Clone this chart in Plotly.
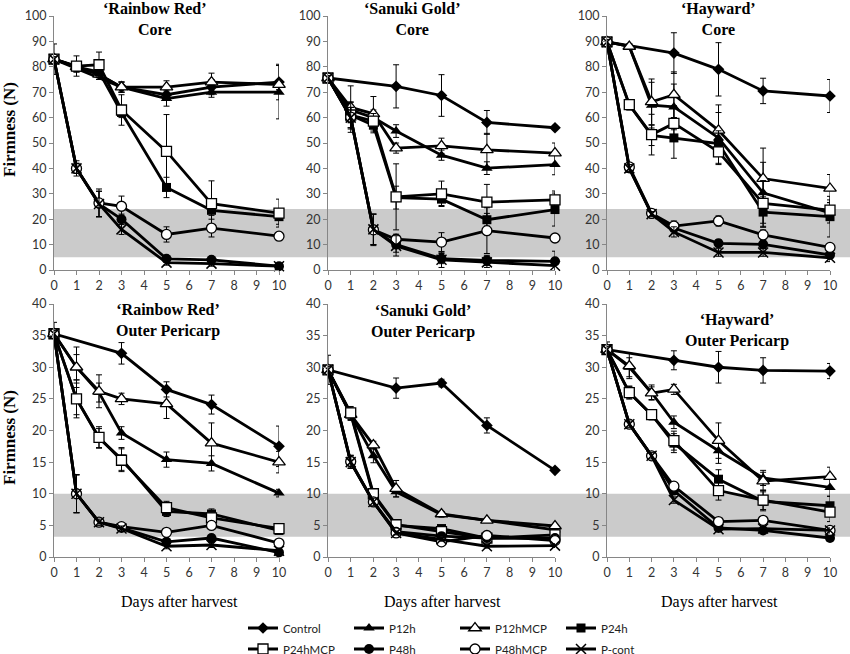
import plotly.graph_objects as go
from plotly.subplots import make_subplots

# Sampling days (Control was only measured on some of them)
DAYS = [0, 1, 2, 3, 5, 7, 10]
CONTROL_DAYS = [0, 3, 5, 7, 10]

SERIES = ["Control", "P12h", "P12hMCP", "P24h", "P24hMCP", "P48h", "P48hMCP", "P-cont"]

# Firmness (N), one row per series in SERIES order
rr_core = [
    [83, 72, 69, 72, 74],
    [83, 80, 77, 72, 67.5, 70, 70],
    [83, 80, 77, 72, 72, 74, 73],
    [83, 80, 78, 62, 32.5, 23.5, 21],
    [83, 80.3, 80.8, 63, 46.7, 26.1, 22.4],
    [83, 40, 26, 20, 4.4, 4, 1.5],
    [83, 40, 26.4, 25.1, 14, 16.5, 13.3],
    [83, 40, 26, 16, 2.9, 2.5, 1.5],
]
rr_core_err = [
    [6, 2, 2, 3, 7],
    [1, 2, 2, 2, 3, 2, 10.5],
    [1, 2, 2, 2, 2.5, 3.5, 2],
    [1, 2, 2, 2, 4, 2, 3],
    [1, 4, 5, 6, 14.5, 9, 5.5],
    [1, 2, 5, 2, 1, 1, 1],
    [1, 3, 5.5, 4, 3, 3.5, 1],
    [1, 2, 5, 2, 1, 1, 1],
]

sg_core = [
    [75.6, 72.3, 68.7, 58.1, 56],
    [75.6, 63, 60, 54.7, 45.2, 40.1, 41.5],
    [75.6, 64, 61.5, 48, 48.9, 47.3, 46],
    [75.6, 61, 57, 28.5, 27.9, 19.8, 23.8],
    [75.6, 61, 58.6, 28.8, 30, 26.7, 27.6],
    [75.6, 60, 16, 10, 4.5, 3.8, 3.4],
    [75.6, 60.2, 15.8, 12.1, 11, 15.5, 12.6],
    [75.6, 60, 16, 9.5, 4, 3, 1.7],
]
sg_core_err = [
    [1, 8.5, 8.2, 4.7, 0.8],
    [1, 3, 3, 2.5, 2, 2.5, 4],
    [1, 8.5, 6.8, 2, 3, 6.5, 4],
    [1, 3, 3, 4.5, 2.5, 2.5, 6.5],
    [1, 3, 3, 13, 5, 7, 3.5],
    [1, 4, 6, 3, 2, 2, 4],
    [1, 6, 6.2, 2, 3.7, 9, 1],
    [1, 4, 6, 4, 3, 2, 2],
]

hw_core = [
    [89.8, 85.4, 79, 70.5, 68.5],
    [89.8, 88, 64.9, 64.2, 52, 30.4, 22.5],
    [89.8, 88, 66.2, 69, 55, 36, 32.1],
    [89.8, 65, 53, 52, 49.8, 22.8, 21],
    [89.8, 65.1, 53.3, 57.7, 46.5, 26.2, 23.6],
    [89.8, 40, 22, 16.5, 10.5, 10.1, 5.9],
    [89.8, 40.6, 22.3, 17.3, 19.3, 13.8, 8.9],
    [89.8, 40, 22, 15, 6.9, 6.9, 4.8],
]
hw_core_err = [
    [1.5, 8, 10.5, 5, 6.5],
    [1, 1, 9, 9, 10, 12, 4],
    [1, 1, 9, 9, 10, 12, 5.5],
    [1, 2, 4, 8, 5, 6, 8],
    [1, 2, 8, 7, 5, 9, 4],
    [1, 1.5, 1, 2, 1.5, 1.5, 1.5],
    [1, 1.5, 1, 2, 2, 2, 1.5],
    [1, 1.5, 1, 2, 1.5, 1.5, 1.5],
]

rr_outer = [
    [35.3, 32.2, 26.5, 24.1, 17.5],
    [35.3, 30, 26, 19.6, 15.4, 14.8, 10.1],
    [35.3, 30, 26.2, 25, 24.2, 18, 15],
    [35.3, 25, 18.8, 15.5, 7.2, 6.8, 4.2],
    [35.3, 25, 18.9, 15.3, 7.8, 6.2, 4.5],
    [35.3, 10, 5.5, 4.6, 2.4, 3, 0.7],
    [35.3, 10, 5.5, 4.8, 3.9, 5, 2.2],
    [35.3, 10, 5.5, 4.5, 1.7, 1.9, 1],
]
rr_outer_err = [
    [1.8, 1.7, 1.2, 1.5, 3.2],
    [0.5, 2, 1.5, 1, 1.2, 1.2, 0.6],
    [0.5, 3.2, 2.6, 0.9, 2.3, 3.2, 1.7],
    [0.5, 2.5, 1.5, 1.8, 0.8, 0.8, 0.5],
    [0.5, 3, 1.7, 1.8, 1, 0.8, 0.5],
    [0.5, 3, 0.5, 0.4, 0.4, 0.5, 0.3],
    [0.5, 3, 0.5, 0.4, 0.4, 0.5, 0.3],
    [0.5, 3, 0.5, 0.4, 0.4, 0.4, 0.3],
]

sg_outer = [
    [29.6, 26.7, 27.5, 20.8, 13.7],
    [29.6, 22.5, 16, 10.3, 6.7, 5.8, 4.3],
    [29.6, 22.5, 17.7, 10.8, 6.8, 5.8, 4.9],
    [29.6, 22.6, 9.8, 5, 4.5, 3, 3],
    [29.6, 22.8, 10, 5.1, 4, 3, 3.5],
    [29.6, 15, 8.7, 4, 3.3, 3, 3],
    [29.6, 15.1, 8.7, 3.8, 2.4, 3.4, 2.6],
    [29.6, 15, 8.7, 3.8, 2.8, 1.7, 1.8],
]
sg_outer_err = [
    [2.3, 1.6, 0.6, 1.2, 0.3],
    [0.5, 0.8, 1.1, 0.8, 0.4, 0.3, 0.3],
    [0.5, 0.8, 0.6, 1.3, 0.4, 0.3, 0.3],
    [0.5, 1, 0.6, 0.4, 0.3, 0.3, 0.3],
    [0.5, 1, 0.6, 0.4, 0.3, 0.3, 0.3],
    [0.5, 1, 0.6, 0.3, 0.3, 0.3, 0.3],
    [0.5, 1, 0.6, 0.3, 0.3, 0.3, 0.3],
    [0.5, 1, 0.6, 0.3, 0.3, 0.3, 0.3],
]

hw_outer = [
    [32.8, 31.1, 30, 29.5, 29.4],
    [32.8, 30, 26, 21.3, 16.8, 12.5, 11],
    [32.8, 30.2, 25.9, 26.5, 18.4, 12, 12.7],
    [32.8, 26, 22.5, 18, 12.3, 8.8, 8.1],
    [32.8, 26, 22.5, 18.4, 10.5, 9, 7.1],
    [32.8, 21, 16, 10.5, 4.6, 4.2, 3],
    [32.8, 21, 16, 11.2, 5.6, 5.8, 4.2],
    [32.8, 21, 16, 9, 4.4, 4.5, 4.2],
]
hw_outer_err = [
    [1.2, 1.5, 2.5, 2, 1.2],
    [0.5, 1.5, 1.2, 1, 2, 1.2, 1.4],
    [0.5, 2, 1, 0.8, 2.8, 1.4, 1.5],
    [0.5, 1, 0.8, 1.5, 1.5, 1.5, 1.5],
    [0.5, 1, 0.8, 1.5, 1.5, 1.5, 1.5],
    [0.5, 0.5, 0.5, 0.5, 0.4, 0.4, 0.4],
    [0.5, 0.5, 0.5, 0.5, 0.4, 0.4, 0.4],
    [0.5, 0.5, 0.5, 0.5, 0.4, 0.4, 0.4],
]

PANEL_TITLES = [
    "‘Rainbow Red’<br>Core", "‘Sanuki Gold’<br>Core", "‘Hayward’<br>Core",
    "‘Rainbow Red’<br>Outer Pericarp", "‘Sanuki Gold’<br>Outer Pericarp", "‘Hayward’<br>Outer Pericarp",
]

# marker look per series
MARKERS = {
    "Control": dict(symbol="diamond", size=9, color="black"),
    "P12h": dict(symbol="triangle-up", size=10, color="black"),
    "P12hMCP": dict(symbol="triangle-up", size=11, color="white", line=dict(color="black", width=1.3)),
    "P24h": dict(symbol="square", size=9, color="black"),
    "P24hMCP": dict(symbol="square", size=10, color="white", line=dict(color="black", width=1.3)),
    "P48h": dict(symbol="circle", size=10, color="black"),
    "P48hMCP": dict(symbol="circle", size=10, color="white", line=dict(color="black", width=1.3)),
    "P-cont": dict(symbol="x-thin", size=10, color="black", line=dict(color="black", width=1.5)),
}

W, H = 850, 654


def px(x):
    return x / W


def py(y):
    return 1 - y / H


fig = make_subplots(rows=2, cols=3)

panels = [
    (1, 1, rr_core, rr_core_err), (1, 2, sg_core, sg_core_err), (1, 3, hw_core, hw_core_err),
    (2, 1, rr_outer, rr_outer_err), (2, 2, sg_outer, sg_outer_err), (2, 3, hw_outer, hw_outer_err),
]

for p, (r, c, vals, errs) in enumerate(panels):
    for i, name in enumerate(SERIES):
        fig.add_trace(go.Scatter(
            x=CONTROL_DAYS if i == 0 else DAYS,
            y=vals[i],
            mode="lines+markers",
            name=name,
            line=dict(color="black", width=2.8),
            marker=MARKERS[name],
            error_y=dict(type="data", array=errs[i], color="black", thickness=1, width=3),
            cliponaxis=False,
            showlegend=(p == 0),
            legend="legend" if i < 4 else "legend2",
        ), row=r, col=c)

# plot areas measured in pixels of the reference
x_doms = [(54, 279), (328, 555), (607, 830)]
y_doms = [(16, 270), (304, 557)]

axis_common = dict(showline=True, linecolor="#868686", linewidth=1, ticks="outside", ticklen=4,
                   tickcolor="#868686", showgrid=False, zeroline=False, automargin=False,
                   tickfont=dict(family="Lato", size=12.5, color="#333"))

for k in range(6):
    r, c = divmod(k, 3)
    sfx = "" if k == 0 else str(k + 1)
    x0, x1 = x_doms[c]
    yt, yb = y_doms[r]
    fig.layout["xaxis" + sfx].update(domain=[px(x0), px(x1)], range=[0, 10], dtick=1, tick0=0, **axis_common)
    fig.layout["yaxis" + sfx].update(domain=[py(yb), py(yt)],
                                     range=[0, 100] if r == 0 else [0, 40],
                                     dtick=10 if r == 0 else 5, **axis_common)

# grey reference bands running across each row
fig.add_shape(type="rect", xref="paper", yref="y", x0=px(54), x1=1, y0=5, y1=24,
              fillcolor="#cbcbcb", line_width=0, layer="below")
fig.add_shape(type="rect", xref="paper", yref="y4", x0=px(54), x1=1, y0=3.2, y1=10,
              fillcolor="#cbcbcb", line_width=0, layer="below")

serif = "Liberation Serif"
title_pos = [(155, 19), (412, 19), (718, 19), (168, 320), (423, 321), (737, 330)]
for txt, (tx, ty) in zip(PANEL_TITLES, title_pos):
    fig.add_annotation(x=px(tx), y=py(ty), xref="paper", yref="paper", text="<b>" + txt + "</b>",
                       showarrow=False, xanchor="center", yanchor="middle",
                       font=dict(family=serif, size=16, color="black"))

for cy in (130, 438):
    fig.add_annotation(x=px(9), y=py(cy), xref="paper", yref="paper", text="<b>Firmness (N)</b>",
                       textangle=-90, showarrow=False, xanchor="center", yanchor="middle",
                       font=dict(family=serif, size=17, color="black"))

for cx in (179, 443, 719):
    fig.add_annotation(x=px(cx), y=py(602), xref="paper", yref="paper", text="Days after harvest",
                       showarrow=False, xanchor="center", yanchor="middle",
                       font=dict(family=serif, size=16, color="black"))

leg = dict(orientation="h", x=px(243), xanchor="left", yanchor="middle",
           entrywidth=61, entrywidthmode="pixels", itemwidth=30,
           font=dict(family="Lato", size=11.5, color="#222"), bgcolor="rgba(0,0,0,0)")

fig.update_layout(
    width=W, height=H,
    margin=dict(l=0, r=0, t=0, b=0, autoexpand=False),
    paper_bgcolor="white", plot_bgcolor="rgba(0,0,0,0)",
    legend=dict(leg, y=py(628)),
    legend2=dict(leg, y=py(649)),
)

# drop the browser's default 8px body margin so the figure sits at the page corner
fig.write_html("out.html", config={"displayModeBar": False},
               post_script="document.body.style.margin='0';document.body.style.overflow='hidden';")
